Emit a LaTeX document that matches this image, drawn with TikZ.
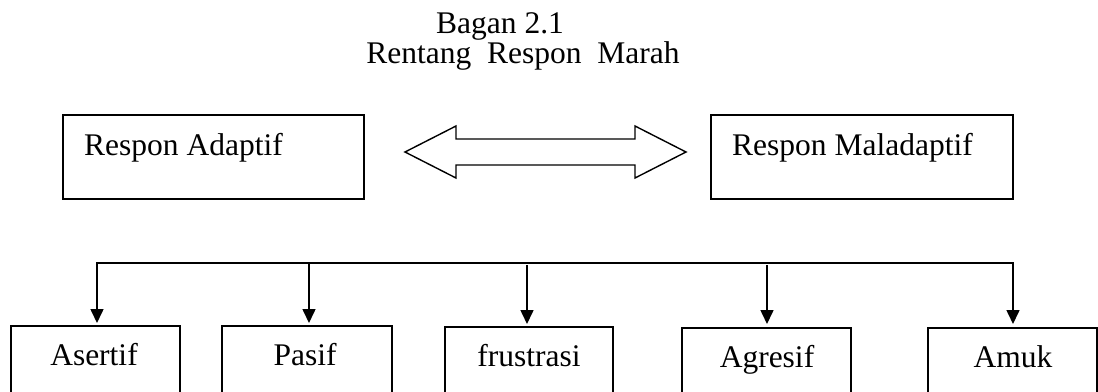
\documentclass[tikz,border=0pt]{standalone}
\usepackage{fontspec}
\setmainfont{Liberation Serif}
\usetikzlibrary{arrows.meta}
\begin{document}
\begin{tikzpicture}[x=1pt,y=-1pt,
  box/.style={draw,line width=1.4pt},
  lbl/.style={font=\fontsize{31.5}{31.5}\selectfont,inner sep=0pt,anchor=base},
  conn/.style={line width=1.6pt},
  arr/.style={conn,-{Triangle[length=14pt,width=13pt]}}]
\useasboundingbox (0,0) rectangle (1098,391);
% title
\node[lbl] (t1) at (500,33) {Bagan 2.1};
\node[lbl] (t2) at (523,63) {Rentang\ \ Respon\ \ Marah};
% top boxes
\draw[box] (63,115) rectangle (364,199);
\node[lbl,anchor=base west] (ra) at (84,155) {Respon Adaptif};
\draw[box] (711,115) rectangle (1013,199);
\node[lbl,anchor=base west] (rm) at (732,155) {Respon Maladaptif};
% double arrow
\draw[line width=1.4pt,line join=miter] (405,152) -- (456,126) -- (456,139) -- (635,139) -- (635,126) -- (686,152) -- (635,178) -- (635,165) -- (456,165) -- (456,178) -- cycle;
% branch line
\coordinate (l0) at (97,263);
\coordinate (l4) at (1013,263);
\draw[conn] (97,310) -- (l0) -- (l4) -- (1013,310);
\coordinate (c1) at (309,263);
\coordinate (c2) at (527,265);
\coordinate (c3) at (767,265);
% bottom boxes
\draw[box] (11,326) rectangle (180,420);
\draw[box] (222,326) rectangle (392,420);
\draw[box] (445,327) rectangle (613,420);
\draw[box] (682,328) rectangle (851,420);
\draw[box] (928,328) rectangle (1097,420);
\node[lbl] (b1) at (94,365) {Asertif};
\node[lbl] (b2) at (305,365) {Pasif};
\node[lbl] (b3) at (529,366) {frustrasi};
\node[lbl] (b4) at (767,367) {Agresif};
\node[lbl] (b5) at (1013,367) {Amuk};
\draw[arr] (l0) -- (97,323);
\draw[arr] (c1) -- (309,323);
\draw[arr] (c2) -- (527,324);
\draw[arr] (c3) -- (767,324);
\draw[arr] (l4) -- (1013,324);
\end{tikzpicture}
\end{document}
